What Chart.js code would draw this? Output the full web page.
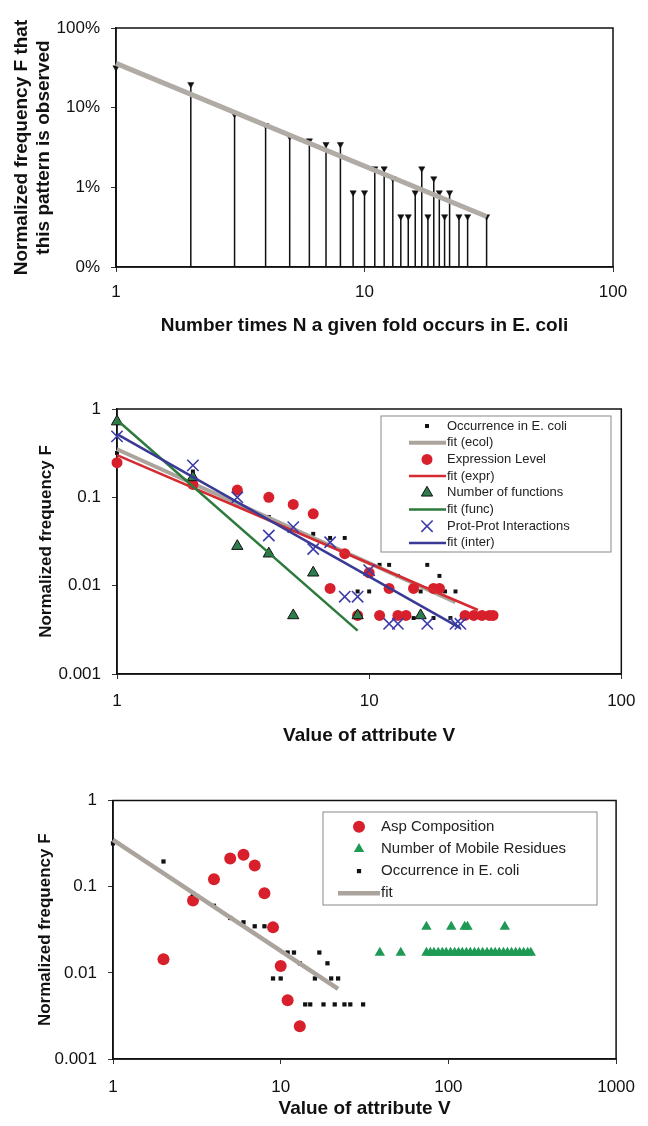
<!DOCTYPE html>
<html lang="en">
<head>
<meta charset="UTF-8">
<title>Power-law frequency of attributes</title>
<script src="https://cdn.jsdelivr.net/npm/chart.js"></script>
<style>
  html, body { margin: 0; padding: 0; background: #fff; }
  body { width: 648px; height: 1126px; position: relative; overflow: hidden; }
  canvas { position: absolute; left: 0; }
  #c1 { top: 0; }
  #c2 { top: 380px; }
  #c3 { top: 770px; }
</style>
</head>
<body>
<canvas id="c1" width="648" height="345"></canvas>
<canvas id="c2" width="648" height="380"></canvas>
<canvas id="c3" width="648" height="356"></canvas>
<script>
// occurrence of folds in E. coli (panel 1, reused in panels 2 and 3)
const occN = [1, 2, 3, 4, 5, 6, 7, 8, 9, 10, 11, 12, 13, 14, 15, 16, 17, 18, 19, 20, 21, 22, 24, 26, 31];
const occF = [0.318, 0.196, 0.0826, 0.060, 0.0433, 0.0386, 0.0347, 0.0347, 0.0086, 0.0086, 0.0172, 0.0172, 0.0129,
              0.0043, 0.0043, 0.0086, 0.0172, 0.0043, 0.0129, 0.0086, 0.0043, 0.0086, 0.0043, 0.0043, 0.0043];
const fitTopN = [1, 31];
const fitTopF = [0.36, 0.0043];
const fitEcolV = [1, 22];
const fitEcolF = [0.35, 0.0065];

// panel 2
const exprV = [1, 2, 3, 4, 5, 6, 7, 8, 9, 10, 11, 12, 13, 14, 15, 18, 19, 24, 26, 28, 30, 31];
const exprF = [0.247, 0.14, 0.121, 0.10, 0.083, 0.065, 0.0093, 0.023, 0.0046, 0.014, 0.0046, 0.0093, 0.0046, 0.0046,
               0.0093, 0.0093, 0.0093, 0.0046, 0.0046, 0.0046, 0.0046, 0.0046];
const fitExprV = [1, 27];
const fitExprF = [0.30, 0.0053];
const funcV = [1, 2, 3, 4, 5, 6, 9, 16];
const funcF = [0.72, 0.168, 0.028, 0.023, 0.0046, 0.014, 0.0046, 0.0046];
const fitFuncV = [1, 9];
const fitFuncF = [0.75, 0.0031];
const interV = [1, 2, 3, 4, 5, 6, 7, 8, 9, 10, 12, 13, 17, 22, 23];
const interF = [0.49, 0.23, 0.10, 0.037, 0.046, 0.026, 0.031, 0.0075, 0.0075, 0.015, 0.0037, 0.0037, 0.0037, 0.0037, 0.0037];
const fitInterV = [1, 23];
const fitInterF = [0.52, 0.0033];

// panel 3
const aspV = [2, 3, 4, 5, 6, 7, 8, 9, 10, 11, 13];
const aspF = [0.0144, 0.069, 0.122, 0.212, 0.234, 0.176, 0.084, 0.0337, 0.012, 0.0048, 0.0024];
const mobV = [39, 52, 74, 78, 82, 87, 92, 97, 103, 109, 115, 121, 128, 135, 143, 151, 160, 170, 180, 190, 201, 213,
              225, 238, 252, 266, 281, 297, 310, 74, 104, 125, 130, 217];
const mobF = [0.0171, 0.0171, 0.0171, 0.0171, 0.0171, 0.0171, 0.0171, 0.0171, 0.0171, 0.0171, 0.0171, 0.0171, 0.0171,
              0.0171, 0.0171, 0.0171, 0.0171, 0.0171, 0.0171, 0.0171, 0.0171, 0.0171, 0.0171, 0.0171, 0.0171, 0.0171,
              0.0171, 0.0171, 0.0171, 0.0343, 0.0343, 0.0343, 0.0343, 0.0343];

// ticks
const yTicks = [0.001, 0.01, 0.1, 1];
const yLabelsPct = ['0%', '1%', '10%', '100%'];
const yLabels = ['0.001', '0.01', '0.1', '1'];
const xTicks100 = [1, 10, 100];
const xLabels100 = ['1', '10', '100'];
const xTicks1000 = [1, 10, 100, 1000];
const xLabels1000 = ['1', '10', '100', '1000'];

const FONT = "'Liberation Sans', Arial, Helvetica, sans-serif";
Chart.defaults.font.family = FONT;
Chart.defaults.color = '#111';

const pts = (xs, ys) => xs.map((x, i) => ({ x: x, y: ys[i] }));

// box around the plot area
const frame = {
  id: 'frame',
  beforeDatasetsDraw(chart) {
    const a = chart.chartArea, c = chart.ctx;
    c.save();
    c.strokeStyle = '#111';
    c.lineWidth = 1.5;
    c.strokeRect(a.left, a.top, a.right - a.left, a.bottom - a.top);
    c.restore();
  }
};

// legend drawn inside the plot, like the original
const boxLegend = {
  id: 'boxLegend',
  afterDraw(chart, args, o) {
    if (!o.box) return;
    const c = chart.ctx, b = o.box;
    c.save();
    c.fillStyle = '#fff';
    c.fillRect(b.left, b.top, b.right - b.left, b.bottom - b.top);
    c.strokeStyle = '#888';
    c.lineWidth = 1;
    c.strokeRect(b.left, b.top, b.right - b.left, b.bottom - b.top);
    c.font = o.size + 'px ' + FONT;
    c.textBaseline = 'middle';
    chart.data.datasets.forEach((ds, i) => {
      const y = o.y0 + i * o.row;
      if (ds.showLine) {
        c.strokeStyle = ds.borderColor;
        c.lineWidth = ds.borderWidth;
        c.beginPath();
        c.moveTo(o.lineX[0], y);
        c.lineTo(o.lineX[1], y);
        c.stroke();
      } else {
        c.fillStyle = ds.pointBackgroundColor;
        c.strokeStyle = ds.pointBorderColor;
        c.lineWidth = ds.pointBorderWidth;
        Chart.helpers.drawPoint(c, {
          pointStyle: ds.pointStyle, radius: ds.pointRadius,
          rotation: ds.pointRotation || 0, borderWidth: ds.pointBorderWidth
        }, o.markX, y);
      }
      c.fillStyle = '#222';
      c.fillText(ds.label, o.textX, y);
    });
    c.restore();
  }
};

function logAxis(a) {
  return {
    type: 'logarithmic',
    position: a.position,
    min: a.min,
    max: a.max,
    afterBuildTicks: s => { s.ticks = a.ticks.map(v => ({ value: v })); },
    afterFit: s => { if (a.position === 'left') s.width = a.size; else s.height = a.size; },
    ticks: { autoSkip: false, maxRotation: 0, padding: a.pad, font: { size: 17 }, color: '#111',
             callback: (v, i) => a.labels[i] },
    grid: { drawOnChartArea: false, tickLength: 5, color: '#333', lineWidth: 1 },
    border: { display: true, color: '#111', width: 1.5 },
    title: { display: true, text: a.title, color: '#111',
             font: { size: a.titleSize, weight: 'bold', lineHeight: a.titleLH || 1.2 },
             padding: a.titlePad }
  };
}

function panel(id, datasets, pad, x, y, legend) {
  datasets.forEach((d, i) => {
    d.clip = false;
    if (d.order === undefined) d.order = -i;
  });
  return new Chart(document.getElementById(id), {
    type: 'scatter',
    data: { datasets: datasets },
    options: {
      responsive: false,
      animation: false,
      events: [],
      layout: { padding: pad },
      plugins: { legend: { display: false }, tooltip: { enabled: false }, boxLegend: legend || {} },
      scales: { x: logAxis(x), y: logAxis(y) }
    },
    plugins: [frame, boxLegend]
  });
}

// stems of panel 1, broken between folds
const stems = [];
occN.forEach((n, i) => { stems.push({ x: n, y: 0.001 }, { x: n, y: occF[i] }, { x: n, y: null }); });

panel('c1', [
  { label: 'fit', data: pts(fitTopN, fitTopF), showLine: true, pointRadius: 0, borderColor: '#b1aba6', borderWidth: 5, order: 0 },
  { label: 'stems', data: stems, showLine: true, spanGaps: false, pointRadius: 0, borderColor: '#111', borderWidth: 1.5, order: 2 },
  { label: 'Occurrence in E. coli', data: pts(occN, occF), pointStyle: 'triangle', pointRotation: 180, pointRadius: 3.6,
    pointBackgroundColor: '#111', pointBorderColor: '#111', pointBorderWidth: 0.5, order: 1 }
], { left: 0, top: 28, right: 35, bottom: 0 },
  { position: 'bottom', min: 1, max: 100, ticks: xTicks100, labels: xLabels100, size: 78, pad: 10,
    title: 'Number times N a given fold occurs in E. coli', titleSize: 19, titlePad: { top: 0, bottom: 8 } },
  { position: 'left', min: 0.001, max: 1, ticks: yTicks, labels: yLabelsPct, size: 116, pad: 11,
    title: ['Normalized frequency F that', 'this pattern is observed'], titleSize: 19, titleLH: 1.14,
    titlePad: { top: 11, bottom: 0 } });

panel('c2', [
  { label: 'Occurrence in E. coli', data: pts(occN, occF), pointStyle: 'rect', pointRadius: 2.8,
    pointBackgroundColor: '#111', pointBorderColor: '#111', pointBorderWidth: 0 },
  { label: 'fit (ecol)', data: pts(fitEcolV, fitEcolF), showLine: true, pointRadius: 0, borderColor: '#aba49d', borderWidth: 4 },
  { label: 'Expression Level', data: pts(exprV, exprF), pointStyle: 'circle', pointRadius: 5.5,
    pointBackgroundColor: '#d8202c', pointBorderColor: '#d8202c', pointBorderWidth: 0 },
  { label: 'fit (expr)', data: pts(fitExprV, fitExprF), showLine: true, pointRadius: 0, borderColor: '#d42a30', borderWidth: 2.5 },
  { label: 'Number of functions', data: pts(funcV, funcF), pointStyle: 'triangle', pointRadius: 6.5,
    pointBackgroundColor: '#2e7d4c', pointBorderColor: '#111', pointBorderWidth: 1 },
  { label: 'fit (func)', data: pts(fitFuncV, fitFuncF), showLine: true, pointRadius: 0, borderColor: '#2c7a3c', borderWidth: 2.5 },
  { label: 'Prot-Prot Interactions', data: pts(interV, interF), pointStyle: 'crossRot', pointRadius: 8,
    pointBackgroundColor: '#3c3ca8', pointBorderColor: '#3c3ca8', pointBorderWidth: 1.6 },
  { label: 'fit (inter)', data: pts(fitInterV, fitInterF), showLine: true, pointRadius: 0, borderColor: '#3a3a96', borderWidth: 2.5 }
], { left: 0, top: 29, right: 17, bottom: 0 },
  { position: 'bottom', min: 1, max: 100, ticks: xTicks100, labels: xLabels100, size: 86, pad: 12.5,
    title: 'Value of attribute V', titleSize: 19, titlePad: { top: 0, bottom: 13 } },
  { position: 'left', min: 0.001, max: 1, ticks: yTicks, labels: yLabels, size: 117, pad: 11,
    title: 'Normalized frequency F', titleSize: 17, titlePad: { top: 36, bottom: 0 } },
  { box: { left: 381, top: 36, right: 611, bottom: 172 }, y0: 46, row: 16.7, size: 13,
    markX: 427, lineX: [409, 446], textX: 447 });

panel('c3', [
  { label: 'Asp Composition', data: pts(aspV, aspF), pointStyle: 'circle', pointRadius: 6,
    pointBackgroundColor: '#d8202c', pointBorderColor: '#d8202c', pointBorderWidth: 0 },
  { label: 'Number of Mobile Residues', data: pts(mobV, mobF), pointStyle: 'triangle', pointRadius: 6,
    pointBackgroundColor: '#1e9a55', pointBorderColor: '#1e9a55', pointBorderWidth: 0 },
  { label: 'Occurrence in E. coli', data: pts(occN, occF), pointStyle: 'rect', pointRadius: 3,
    pointBackgroundColor: '#111', pointBorderColor: '#111', pointBorderWidth: 0 },
  { label: 'fit', data: pts(fitEcolV, fitEcolF), showLine: true, pointRadius: 0, borderColor: '#aba49d', borderWidth: 4.5 }
], { left: 0, top: 30.5, right: 22, bottom: 0 },
  { position: 'bottom', min: 1, max: 1000, ticks: xTicks1000, labels: xLabels1000, size: 67, pad: 13,
    title: 'Value of attribute V', titleSize: 19, titlePad: { top: 0, bottom: 6 } },
  { position: 'left', min: 0.001, max: 1, ticks: yTicks, labels: yLabels, size: 113, pad: 11,
    title: 'Normalized frequency F', titleSize: 17, titlePad: { top: 35, bottom: 0 } },
  { box: { left: 323, top: 42, right: 597, bottom: 135 }, y0: 56.7, row: 22.2, size: 15,
    markX: 359, lineX: [338, 380], textX: 381 });
</script>
</body>
</html>
